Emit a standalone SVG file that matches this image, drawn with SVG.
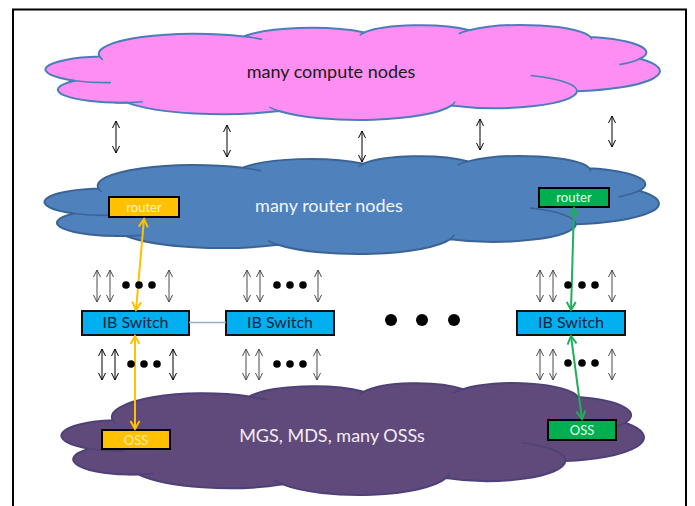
<svg xmlns="http://www.w3.org/2000/svg" xmlns:xlink="http://www.w3.org/1999/xlink" width="695" height="506" viewBox="0 0 695 506">
  <style>
    text { font-family: Lato, "Liberation Sans", "DejaVu Sans", sans-serif; text-anchor: middle; }
    .frame { fill: none; stroke: #000; stroke-width: 2; }
    .compute { fill: #FF8EF2; stroke: #4A7EBB; stroke-width: 2; }
    .router-cloud { fill: #4F81BD; stroke: #3A6496; stroke-width: 2; }
    .storage { fill: #604A7B; stroke: #4E4078; stroke-width: 2; }
    .crease { fill: none; stroke-width: 1.6; }
    .cloud-label { font-size: 18px; }
    .box { stroke: #000; stroke-width: 2; }
    .gold { fill: #FFC000; }
    .green { fill: #00B050; }
    .switch { fill: #00B0F0; stroke: #111; stroke-width: 2; }
    .switch-label { font-size: 16px; fill: #10243F; }
    .small-label { font-size: 13px; }
    .tick-k { stroke: #000; stroke-width: 1; marker-start: url(#ah-k); marker-end: url(#ah-k); }
    .tick-g { stroke: #4A4A4A; stroke-width: 1; marker-start: url(#ah-g); marker-end: url(#ah-g); }
    .path-gold { stroke: #FFC000; stroke-width: 2; fill: none; marker-start: url(#ah-gold); marker-end: url(#ah-gold); }
    .path-green { stroke: #1FAF5A; stroke-width: 2; fill: none; marker-start: url(#ah-green); marker-end: url(#ah-green); }
    .link { stroke: #9AAEC2; stroke-width: 1.5; }
    .dot { fill: #000; }
  </style>
  <defs>
    <!-- cloud outline in a 43200 x 43200 frame -->
    <path id="cloud-outline" vector-effect="non-scaling-stroke" d="M3900,14370 A6753,9190 0 0 1 14000,5192 A5333,7267 0 0 1 22470,3380 A4365,5945 0 0 1 29825,2380 A4857,6595 0 0 1 38324,5426 A5333,7273 0 0 1 41798,15354 A6775,9220 0 0 1 37380,30089 A5785,7867 0 0 1 28557,36650 A6752,9215 0 0 1 16478,39090 A7720,10543 0 0 1 5819,35280 A4360,5918 0 0 1 2170,25330 A4345,5945 0 0 1 3900,14370 Z"/>
    <!-- inner crease arcs of the cloud -->
    <path id="cloud-creases" vector-effect="non-scaling-stroke" d="M4693,26177 A4345,5945 0 0 1 2170,25330 M6928,34899 A4360,5918 0 0 1 4990,35305 M16478,39090 A6752,9215 0 0 1 15810,37349 M28827,34751 A6752,9215 0 0 1 28560,36660 M34129,22954 A5785,7867 0 0 1 37380,30089 M41798,15354 A5333,7273 0 0 1 40351,18030 M38324,5426 A4857,6595 0 0 1 38401,6691 M29078,3952 A4857,6595 0 0 1 29820,2340 M22141,4720 A4365,5945 0 0 1 22500,3330 M14000,5192 A6753,9190 0 0 1 15300,6540 M4127,15789 A6753,9190 0 0 1 3900,14370"/>
    <marker id="ah-k" markerUnits="userSpaceOnUse" markerWidth="12" markerHeight="12" viewBox="-10 -6 12 12" refX="0" refY="0" orient="auto-start-reverse">
      <path d="M-7,-3.5 L0,0 L-7,3.5" fill="none" stroke="#000" stroke-width="1"/>
    </marker>
    <marker id="ah-g" markerUnits="userSpaceOnUse" markerWidth="12" markerHeight="12" viewBox="-10 -6 12 12" refX="0" refY="0" orient="auto-start-reverse">
      <path d="M-7,-3.5 L0,0 L-7,3.5" fill="none" stroke="#4A4A4A" stroke-width="1"/>
    </marker>
    <marker id="ah-gold" markerUnits="userSpaceOnUse" markerWidth="14" markerHeight="14" viewBox="-11 -7 14 14" refX="0" refY="0" orient="auto-start-reverse">
      <path d="M-8,-4.5 L0,0 L-8,4.5" fill="none" stroke="#FFC000" stroke-width="2"/>
    </marker>
    <marker id="ah-green" markerUnits="userSpaceOnUse" markerWidth="14" markerHeight="14" viewBox="-11 -7 14 14" refX="0" refY="0" orient="auto-start-reverse">
      <path d="M-8,-4.5 L0,0 L-8,4.5" fill="none" stroke="#1FAF5A" stroke-width="2"/>
    </marker>
  </defs>

  <rect class="frame" x="13" y="9.5" width="673" height="520"/>

  <g id="compute-nodes">
    <g class="compute" transform="translate(44,25) scale(0.014259,0.0021991)">
      <use xlink:href="#cloud-outline"/>
      <use xlink:href="#cloud-creases" class="crease"/>
    </g>
    <text class="cloud-label" x="331" y="78" fill="#1A1A1A">many compute nodes</text>
  </g>

  <g id="router-nodes">
    <g class="router-cloud" transform="translate(43,156) scale(0.014259,0.0022685)">
      <use xlink:href="#cloud-outline"/>
      <use xlink:href="#cloud-creases" class="crease"/>
    </g>
    <text class="cloud-label" x="329" y="212" fill="#F2F6FF">many router nodes</text>
  </g>

  <g id="storage-nodes">
    <g class="storage" transform="translate(60,383) scale(0.013519,0.0025926)">
      <use xlink:href="#cloud-outline"/>
      <use xlink:href="#cloud-creases" class="crease"/>
    </g>
    <text class="cloud-label" x="332" y="442" fill="#F2ECF8">MGS, MDS, many OSSs</text>
  </g>

  <g id="router-gold">
    <rect class="box gold" x="109" y="197" width="70" height="20"/>
    <text class="small-label" x="144" y="212" fill="#FFF3CC">router</text>
  </g>
  <g id="router-green">
    <rect class="box green" x="539" y="188" width="70" height="19"/>
    <text class="small-label" x="574" y="202" fill="#EAFBEA">router</text>
  </g>

  <g id="oss-gold">
    <rect class="box gold" x="102" y="430" width="68" height="19"/>
    <text class="small-label" x="136" y="445" fill="#FFEBA8">OSS</text>
  </g>
  <g id="oss-green">
    <rect class="box green" x="548" y="420" width="68" height="20"/>
    <text class="small-label" x="582" y="435" fill="#EAFBEA">OSS</text>
  </g>

  <g id="ib-switch-1">
    <rect class="switch" x="82" y="311" width="107" height="24"/>
    <text class="switch-label" x="135.5" y="328">IB Switch</text>
  </g>
  <g id="ib-switch-2">
    <rect class="switch" x="226" y="311" width="108" height="24"/>
    <text class="switch-label" x="280" y="328">IB Switch</text>
  </g>
  <g id="ib-switch-3">
    <rect class="switch" x="517" y="311" width="108" height="24"/>
    <text class="switch-label" x="571" y="328">IB Switch</text>
  </g>

  <g id="connectors">
    <!-- compute to router links -->
    <line class="tick-k" x1="116" y1="121" x2="116" y2="153"/>
    <line class="tick-k" x1="227" y1="125" x2="227" y2="157"/>
    <line class="tick-k" x1="362" y1="131" x2="362" y2="162"/>
    <line class="tick-k" x1="480" y1="119" x2="480" y2="150"/>
    <line class="tick-k" x1="612" y1="116" x2="612" y2="147"/>

    <!-- links above the switches -->
    <line class="tick-g" x1="97" y1="270" x2="97" y2="302"/>
    <line class="tick-g" x1="110" y1="270" x2="110" y2="302"/>
    <line class="tick-g" x1="169" y1="270" x2="169" y2="302"/>
    <line class="tick-g" x1="247" y1="270" x2="247" y2="302"/>
    <line class="tick-g" x1="260" y1="270" x2="260" y2="302"/>
    <line class="tick-g" x1="318" y1="270" x2="318" y2="302"/>
    <line class="tick-g" x1="540" y1="270" x2="540" y2="302"/>
    <line class="tick-g" x1="553" y1="270" x2="553" y2="302"/>
    <line class="tick-g" x1="612" y1="270" x2="612" y2="302"/>

    <!-- links below the switches -->
    <line class="tick-k" x1="102" y1="349" x2="102" y2="380"/>
    <line class="tick-k" x1="115" y1="349" x2="115" y2="380"/>
    <line class="tick-k" x1="173" y1="349" x2="173" y2="380"/>
    <line class="tick-g" x1="246" y1="349" x2="246" y2="380"/>
    <line class="tick-g" x1="259" y1="349" x2="259" y2="380"/>
    <line class="tick-g" x1="317" y1="349" x2="317" y2="380"/>
    <line class="tick-g" x1="540" y1="349" x2="540" y2="380"/>
    <line class="tick-g" x1="553" y1="349" x2="553" y2="380"/>
    <line class="tick-g" x1="612" y1="349" x2="612" y2="380"/>

    <!-- switch to switch -->
    <line class="link" x1="189" y1="322.5" x2="226" y2="322.5"/>

    <!-- highlighted paths -->
    <line class="path-gold" x1="144" y1="219" x2="136" y2="310"/>
    <line class="path-gold" x1="135" y1="336" x2="135" y2="429"/>
    <line class="path-green" x1="574" y1="208" x2="571" y2="310"/>
    <line class="path-green" x1="571" y1="336" x2="582" y2="419"/>
  </g>

  <g id="ellipsis">
    <circle class="dot" cx="126" cy="285" r="3.8"/>
    <circle class="dot" cx="139" cy="285" r="3.8"/>
    <circle class="dot" cx="152" cy="285" r="3.8"/>
    <circle class="dot" cx="277" cy="285" r="3.8"/>
    <circle class="dot" cx="290" cy="285" r="3.8"/>
    <circle class="dot" cx="303" cy="285" r="3.8"/>
    <circle class="dot" cx="568" cy="285" r="3.8"/>
    <circle class="dot" cx="582" cy="285" r="3.8"/>
    <circle class="dot" cx="595" cy="285" r="3.8"/>
    <circle class="dot" cx="131" cy="364" r="3.8"/>
    <circle class="dot" cx="144" cy="364" r="3.8"/>
    <circle class="dot" cx="157" cy="364" r="3.8"/>
    <circle class="dot" cx="277" cy="364" r="3.8"/>
    <circle class="dot" cx="290" cy="364" r="3.8"/>
    <circle class="dot" cx="303" cy="364" r="3.8"/>
    <circle class="dot" cx="568" cy="363" r="3.8"/>
    <circle class="dot" cx="582" cy="363" r="3.8"/>
    <circle class="dot" cx="595" cy="363" r="3.8"/>
    <circle class="dot" cx="391" cy="320" r="6"/>
    <circle class="dot" cx="422" cy="320" r="6"/>
    <circle class="dot" cx="454" cy="320" r="6"/>
  </g>
</svg>
